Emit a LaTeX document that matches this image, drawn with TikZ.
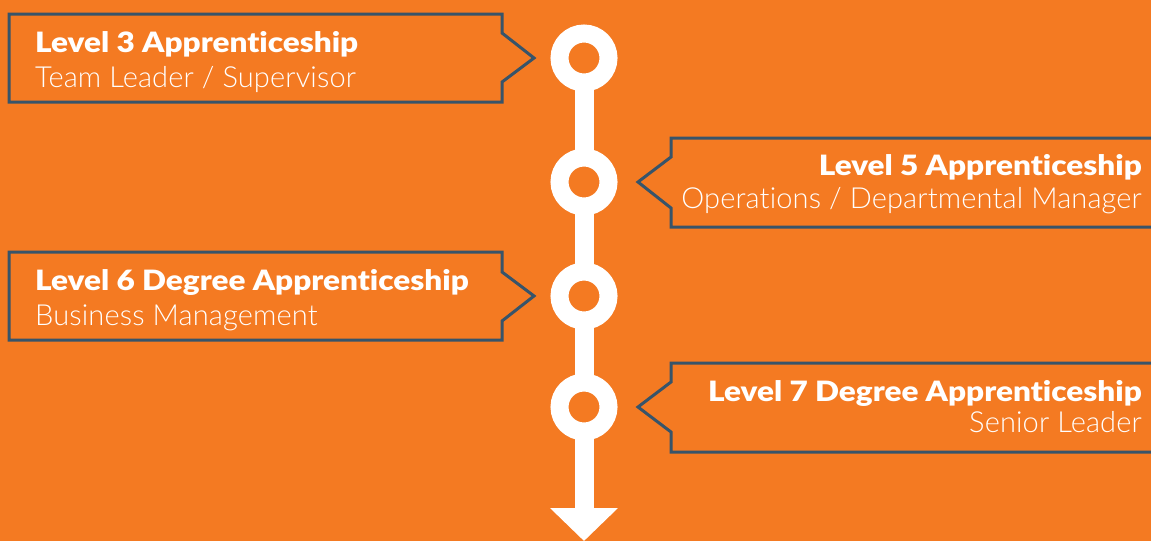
\documentclass[tikz,border=0pt]{standalone}
\usepackage{fontspec}
\setmainfont{Lato}[Ligatures=NoCommon]
\IfFontExistsTF{Lato Black}
  {\newfontfamily\headfont{Lato Black}[Ligatures=NoCommon,FakeStretch=1.125]}
  {\newfontfamily\headfont{Lato}[Ligatures=NoCommon,FakeStretch=1.2,FakeBold=0.6]}
\IfFontExistsTF{Lato Light}
  {\newfontfamily\subfont{Lato Light}[Ligatures=NoCommon,LetterSpace=0.5]}
  {\newfontfamily\subfont{Lato}[Ligatures=NoCommon,LetterSpace=0.5]}
\usetikzlibrary{arrows.meta}

\definecolor{bgorange}{RGB}{244,122,34}
\definecolor{slate}{RGB}{55,84,106}

\begin{document}
\begin{tikzpicture}[x=1pt,y=-1pt,
                    panel/.style={draw=slate,line width=3pt,fill=bgorange,line join=miter},
                    stop/.style={circle,draw=white,line width=18pt,minimum size=49pt,
                                 inner sep=0pt,outer sep=0pt},
                    spine/.style={draw=white,line width=19pt},
                    title/.style={text=white,inner sep=0pt,font=\fontsize{28}{34}\selectfont\headfont},
                    sub/.style={text=white,inner sep=0pt,font=\fontsize{29}{34}\selectfont\subfont}]

  \fill[bgorange] (0,0) rectangle (1151,541);
  \useasboundingbox (0,0) rectangle (1151,541);
  \clip (0,0) rectangle (1151,541);

  % milestones on the timeline
  \node[stop] (m3) at (584,58)  {};
  \node[stop] (m5) at (584,182) {};
  \node[stop] (m6) at (584,296) {};
  \node[stop] (m7) at (584,407) {};
  \coordinate (end) at (584,541);

  \path[spine] (m3) edge (m5)
               (m5) edge (m6)
               (m6) edge (m7);
  \draw[spine,-{Triangle[width=66pt,length=33pt]}] (m7) -- (end);

  % left panels
  \draw[panel] (9,14) -- (502,14) -- (502,33) -- (534,58) -- (502,82)
               -- (502,102) -- (9,102) -- cycle;
  \draw[panel] (9,252) -- (502,252) -- (502,272) -- (534,296) -- (502,321)
               -- (502,340) -- (9,340) -- cycle;

  % right panels
  \draw[panel] (1160,138) -- (671,138) -- (671,157) -- (638,182) -- (671,208)
               -- (671,227) -- (1160,227);
  \draw[panel] (1160,363) -- (671,363) -- (671,382) -- (638,407) -- (671,432)
               -- (671,452) -- (1160,452);

  \node[title,anchor=base west] (t3) at (35,52)  {Level 3 Apprenticeship};
  \node[sub,anchor=base west]   (s3) at (35,87)  {Team Leader / Supervisor};
  \node[title,anchor=base west] (t6) at (35,290) {Level 6 Degree Apprenticeship};
  \node[sub,anchor=base west]   (s6) at (35,325) {Business Management};

  \node[title,anchor=base east] (t5) at (1142,175) {Level 5 Apprenticeship};
  \node[sub,anchor=base east]   (s5) at (1142,208) {Operations / Departmental Manager};
  \node[title,anchor=base east] (t7) at (1142,401) {Level 7 Degree Apprenticeship};
  \node[sub,anchor=base east]   (s7) at (1142,432) {Senior Leader};
\end{tikzpicture}
\end{document}
